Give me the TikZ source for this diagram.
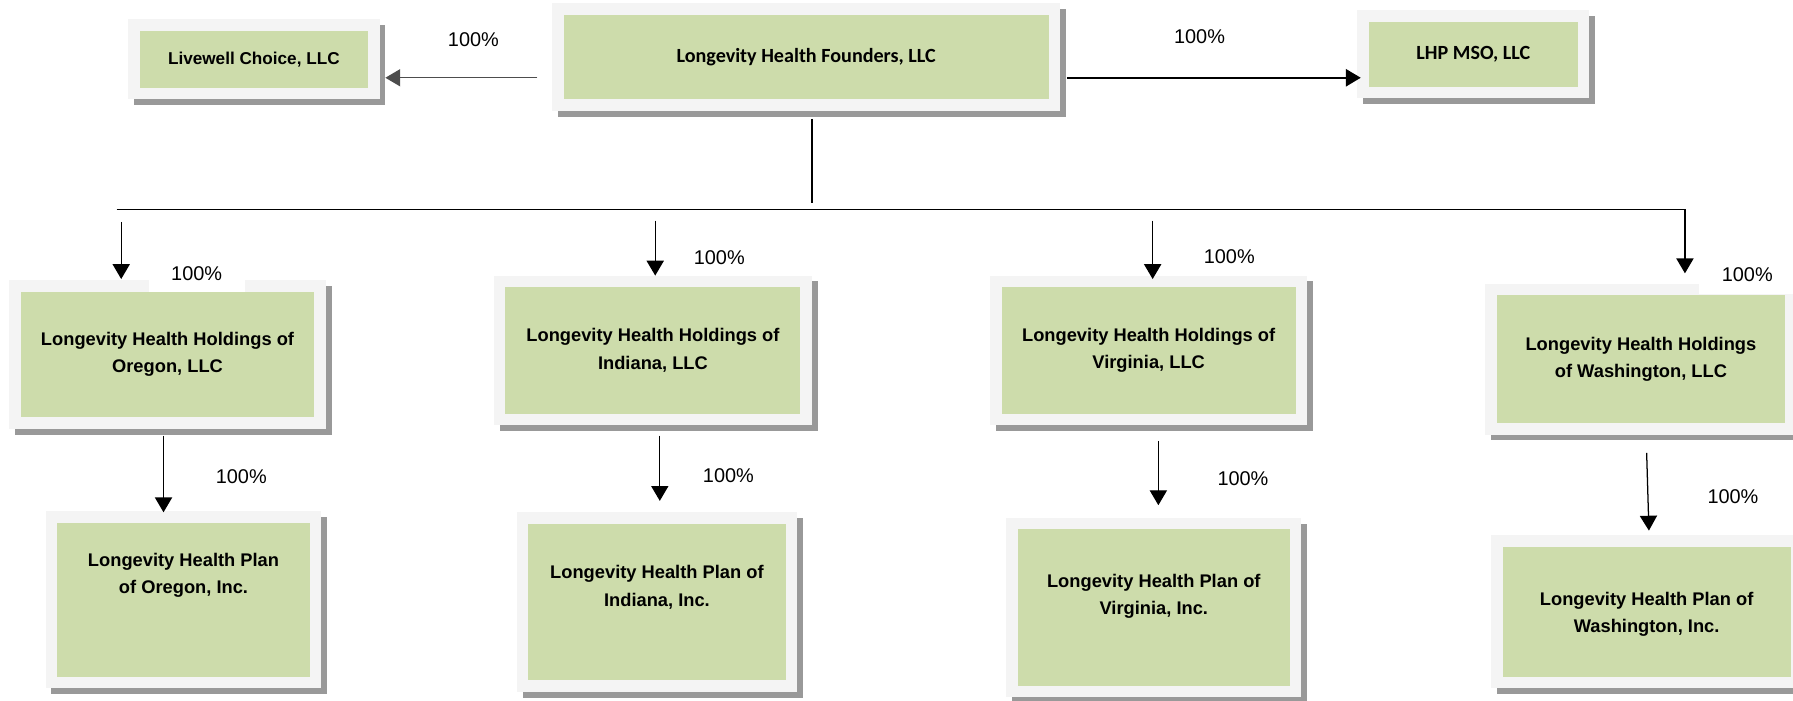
\documentclass[tikz,border=0pt]{standalone}
\usepackage{fontspec}
\setmainfont{Liberation Sans}
\newfontfamily\carlito{Carlito}
\usetikzlibrary{arrows.meta}

\definecolor{boxgreen}{RGB}{205,220,171}
\definecolor{rimgrey}{RGB}{244,244,244}
\definecolor{shadegrey}{RGB}{153,153,153}
\definecolor{linegrey}{RGB}{77,77,77}

\tikzset{
  entity/.style={draw=rimgrey, line width=5pt, fill=boxgreen, inner sep=0pt, outer sep=0pt, align=center,
    font=\bfseries\fontsize{8}{12}\selectfont,
    preaction={draw=shadegrey, fill=shadegrey, line width=5pt, transform canvas={shift={(2.5pt,-2.5pt)}}}},
  topentity/.style={entity, font=\carlito\bfseries\fontsize{8.8}{11}\selectfont},
  boxtext/.style={align=center, inner sep=0pt, font=\bfseries\fontsize{8}{12}\selectfont},
  share/.style={fill=white, inner sep=0pt, minimum width=42pt, minimum height=16.5pt, font=\fontsize{8.7}{10}\selectfont},
  own/.style={-{Triangle[width=7.5pt,length=6.5pt]}, line width=0.55pt},
}

\begin{document}
\begin{tikzpicture}[x=0.5pt,y=-0.5pt]
\useasboundingbox (0,0) rectangle (1568,612.2);

%Shape: top row
\node[entity, font=\bfseries\fontsize{7.5}{9}\selectfont, minimum width=105pt, minimum height=30pt] (livewell) at (222,52) {Livewell Choice, LLC};
\node[topentity, minimum width=217pt, minimum height=42pt] (founders) at (705,50) {Longevity Health Founders, LLC};
\node[topentity, minimum width=96.5pt, minimum height=33.5pt] (lhpmso) at (1288.5,47.5) {LHP MSO, LLC};

%Shape: holdings
\node[entity, minimum width=133.5pt, minimum height=60pt] (orhold) at (146.5,310) {Longevity Health Holdings of\\Oregon, LLC};
\node[entity, minimum width=134pt, minimum height=60.5pt] (inhold) at (571,306.5) {Longevity Health Holdings of\\Indiana, LLC};
\node[entity, minimum width=133.5pt, minimum height=60.5pt] (vahold) at (1004.5,306.5) {Longevity Health Holdings of\\Virginia, LLC};
\node[entity, minimum width=131pt, minimum height=61pt] (wahold) at (1435,314) {Longevity Health Holdings\\of Washington, LLC};

%Shape: plans (text sits above the middle)
\node[entity, minimum width=115.5pt, minimum height=72.5pt] (orplan) at (160.5,524.5) {};
\node[entity, minimum width=117.5pt, minimum height=73.5pt] (inplan) at (574.5,526.5) {};
\node[entity, minimum width=124pt, minimum height=73.5pt] (vaplan) at (1009,531.3) {};
\node[entity, minimum width=131pt, minimum height=62pt] (waplan) at (1440,535) {};
\node[boxtext] (orplantext) at ([yshift=10.75pt]orplan.center) {Longevity Health Plan\\of Oregon, Inc.};
\node[boxtext] (inplantext) at ([yshift=6.5pt]inplan.center) {Longevity Health Plan of\\Indiana, Inc.};
\node[boxtext] (vaplantext) at ([yshift=5pt]vaplan.center) {Longevity Health Plan of\\Virginia, Inc.};
\node[boxtext] (waplantext) at ([yshift=-1pt]waplan.center) {Longevity Health Plan of\\Washington, Inc.};

%Straight Lines: side companies
\draw[own, linegrey] ([shift={(-18,18)}]founders.west) coordinate (lwstart) -- ([xshift=5pt]livewell.east |- lwstart);
\draw[own, line width=0.9pt] ([shift={(11,18)}]founders.east) coordinate (msostart) -- ([xshift=-1pt]lhpmso.west |- msostart);

%Straight Lines: trunk and bus
\draw[line width=0.55pt] ([shift={(5,12)}]founders.south) -- ([shift={(5,85.5)}]founders.south);
\coordinate (busw) at (102,183.5);
\draw[own] (busw) -| ([shift={(38.5,-14)}]wahold.north);
\foreach \b/\dx/\top/\bot in {orhold/-40.5/56/6, inhold/2/53/5, vahold/3.5/53/2}
  \draw[own] ([shift={(\dx,-\top)}]\b.north) -- ([shift={(\dx,-\bot)}]\b.north);

%Straight Lines: holdings to plans
\draw[own] ([shift={(-3.5,11)}]orhold.south) -- ([shift={(-17.5,-4)}]orplan.north);
\draw[own] ([shift={(6,14)}]inhold.south) -- ([shift={(2.5,-15)}]inplan.north);
\draw[own] ([shift={(8.5,18.5)}]vahold.south) -- ([shift={(4,-16)}]vaplan.north);
\draw[own] ([shift={(5,21)}]wahold.south) -- ([shift={(2,-9)}]waplan.north);

% Text Node
\node[share] (pctlw) at (414,35) {100\%};
\node[share] (pctmso) at (1049,32) {100\%};
\node[share] (pctor) at (172,239) {100\%};
\node[share] (pctin) at (629,225) {100\%};
\node[share] (pctva) at (1075,224) {100\%};
\node[share] (pctwa) at (1528,240.5) {100\%};
\node[share] (pctorplan) at (211,417) {100\%};
\node[share] (pctinplan) at (637,416) {100\%};
\node[share] (pctvaplan) at (1087,419) {100\%};
\node[share] (pctwaplan) at (1515.5,434) {100\%};

\end{tikzpicture}
\end{document}
